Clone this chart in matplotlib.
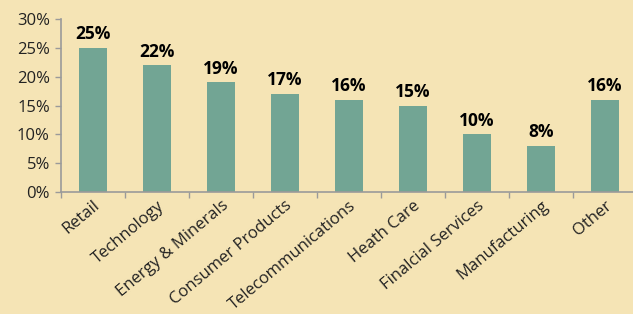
import matplotlib
matplotlib.use("Agg")
import matplotlib.pyplot as plt
from matplotlib.ticker import FixedLocator, PercentFormatter

categories = ["Retail", "Technology", "Energy & Minerals", "Consumer Products",
              "Telecommunications", "Heath Care", "Finalcial Services",
              "Manufacturing", "Other"]
shares = [25, 22, 19, 17, 16, 15, 10, 8, 16]

bg = "#f5e4b5"
bar_color = "#72a594"
axis_color = "#9a9a9a"

plt.rcParams['font.family'] = ['Open Sans', 'DejaVu Sans']

fig = plt.figure(figsize=(6.33, 3.14), dpi=100, facecolor=bg)
ax = fig.add_axes([61/633, 122/314, 576/633, 173/314])
ax.set_facecolor(bg)

x = list(range(len(categories)))
bars = ax.bar(x, shares, width=0.45, color=bar_color, zorder=2)

for rect, v in zip(bars, shares):
    ax.text(rect.get_x() + rect.get_width()/2, v + 0.8, f"{v}%",
            ha='center', va='bottom', fontsize=12.5, fontweight='bold', color='black')

ax.set_xlim(-0.5, len(categories) - 0.5)
ax.set_ylim(0, 30)
ax.set_yticks(range(0, 31, 5))
ax.yaxis.set_major_formatter(PercentFormatter(decimals=0))

ax.set_xticks(x)
ax.set_xticklabels(categories, rotation=40, ha='right', rotation_mode='anchor')
ax.xaxis.set_minor_locator(FixedLocator([i - 0.5 for i in range(len(categories) + 1)]))
ax.tick_params(axis='x', which='major', length=0, pad=4, labelsize=12, colors='#222222')
ax.tick_params(axis='x', which='minor', length=4, width=1, color=axis_color)
ax.tick_params(axis='y', length=4, width=1, color=axis_color, labelsize=12,
               labelcolor='#222222', pad=4)

for side in ['top', 'right']:
    ax.spines[side].set_visible(False)
for side in ['left', 'bottom']:
    ax.spines[side].set_color(axis_color)
    ax.spines[side].set_linewidth(1.2)

fig.savefig("out.png", dpi=100, facecolor=bg)
